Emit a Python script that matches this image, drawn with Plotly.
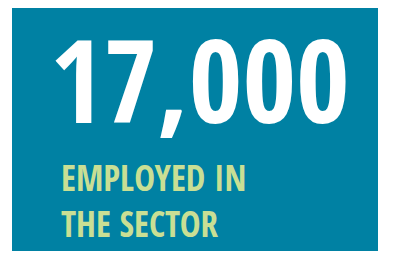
import plotly.graph_objects as go

# Data (infographic content)
headline_value = ["17,000"]
label_lines = ["EMPLOYED IN", "THE SECTOR"]

W, H = 393, 254
panel_color = "#0081A3"
value_color = "#FFFFFF"
label_color = "#C9DF94"
font_family = "Open Sans Condensed, Roboto Condensed, DejaVu Sans Condensed, sans-serif"

fig = go.Figure()

fig.update_layout(
    width=W, height=H,
    margin=dict(l=0, r=0, t=0, b=0),
    paper_bgcolor="white",
    plot_bgcolor="white",
    showlegend=False,
    xaxis=dict(range=[0, W], visible=False, fixedrange=True),
    yaxis=dict(range=[H, 0], visible=False, fixedrange=True),
)

fig.add_shape(type="rect", x0=12, x1=378, y0=8, y1=251,
              fillcolor=panel_color, line=dict(width=0), layer="below")

fig.add_annotation(x=48, y=78, text="<b>%s</b>" % headline_value[0],
                   showarrow=False, xanchor="left", yanchor="middle",
                   font=dict(family=font_family, size=116, color=value_color))

fig.add_annotation(x=59, y=200, text="<br>".join("<b>%s</b>" % s for s in label_lines),
                   showarrow=False, xanchor="left", yanchor="middle", align="left",
                   font=dict(family=font_family, size=35, color=label_color))

fig.write_html("out.html", config={"displayModeBar": False},
               post_script="document.body.style.margin='0';")
